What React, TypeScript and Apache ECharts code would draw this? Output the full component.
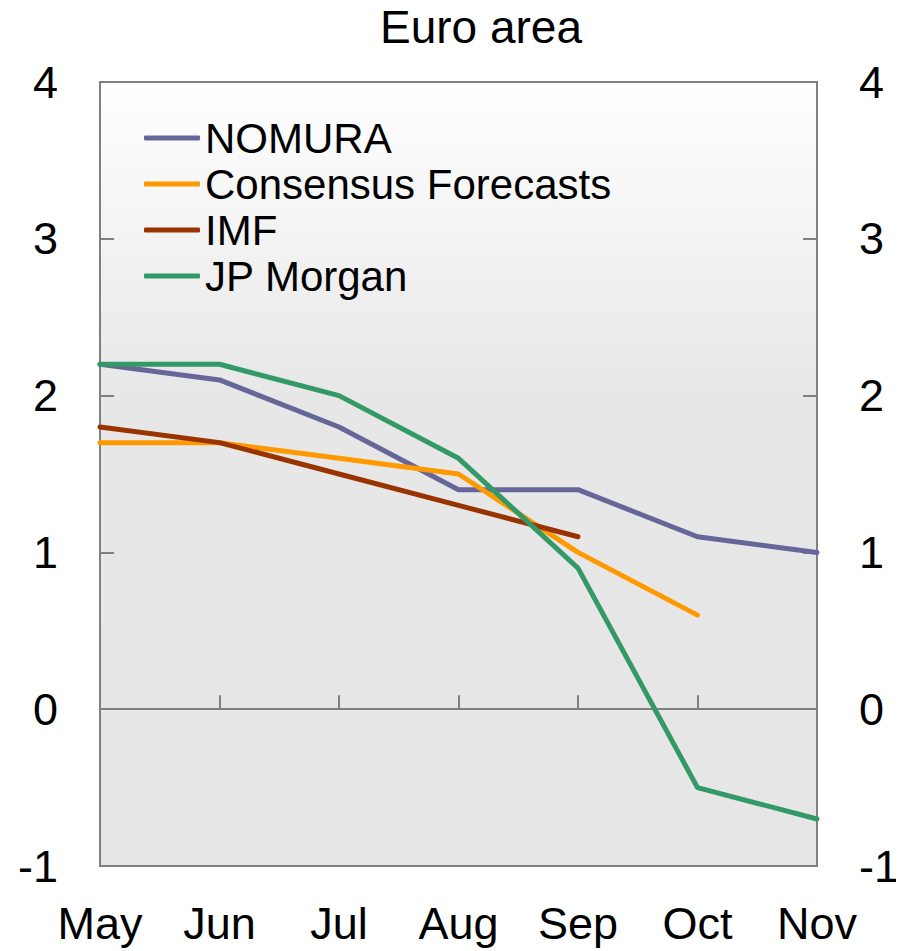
import React, { useEffect, useRef } from "react";
import * as echarts from "echarts";

const months = ["May", "Jun", "Jul", "Aug", "Sep", "Oct", "Nov"];
const nomura = [2.2, 2.1, 1.8, 1.4, 1.4, 1.1, 1.0];
const consensus = [1.7, 1.7, 1.6, 1.5, 1.0, 0.6, null];
const imf = [1.8, 1.7, 1.5, 1.3, 1.1, null, null];
const jpMorgan = [2.2, 2.2, 2.0, 1.6, 0.9, -0.5, -0.7];
const seriesNames = ["NOMURA", "Consensus Forecasts", "IMF", "JP Morgan"];
const seriesColors = ["#666699", "#FF9900", "#993300", "#339966"];

const FONT = "'Liberation Sans', Arial, Helvetica, sans-serif";

export default function App() {
  const ref = useRef<HTMLDivElement>(null);
  useEffect(() => {
    if (!ref.current) return;
    const chart = echarts.init(ref.current, undefined, { renderer: "svg" });
    const datas = [nomura, consensus, imf, jpMorgan];
    const gray = "#808080";
    const yAxisBase = (pos: "left" | "right") => ({
      type: "value",
      position: pos,
      min: -1,
      max: 4,
      interval: 1,
      axisLine: { show: true, lineStyle: { color: gray, width: 2 } },
      axisTick: { show: true, inside: true, length: 14, lineStyle: { color: gray, width: 2 } },
      axisLabel: { color: "#000", fontSize: 45, fontFamily: FONT, margin: 42 },
      splitLine: { show: false },
    });
    chart.setOption({
      animation: false,
      backgroundColor: "#ffffff",
      title: {
        text: "Euro area",
        left: 380,
        top: 4,
        padding: 0,
        textStyle: { color: "#000", fontSize: 46, fontWeight: "normal", fontFamily: FONT },
      },
      legend: {
        show: true,
        orient: "vertical",
        left: 144,
        top: 117,
        padding: 0,
        itemGap: 4,
        itemWidth: 56,
        itemHeight: 5,
        icon: "roundRect",
        data: seriesNames,
        textStyle: { color: "#000", fontSize: 42, fontFamily: FONT },
      },
      grid: {
        show: true,
        left: 100,
        top: 82,
        right: 87,
        bottom: 85,
        borderColor: gray,
        borderWidth: 2,
        backgroundColor: new echarts.graphic.LinearGradient(0, 0, 0, 1, [
          { offset: 0, color: "#ffffff" },
          { offset: 0.4, color: "#e7e7e7" },
          { offset: 1, color: "#e6e6e6" },
        ]),
      },
      xAxis: {
        type: "category",
        data: months,
        boundaryGap: false,
        axisLine: { show: true, lineStyle: { color: gray, width: 2 } },
        axisTick: { show: true, inside: true, length: 14, lineStyle: { color: gray, width: 2 } },
        axisLabel: { color: "#000", fontSize: 45, fontFamily: FONT, margin: 35, interval: 0 },
        splitLine: { show: false },
      },
      yAxis: [yAxisBase("left"), yAxisBase("right")],
      series: seriesNames.map((name, i) => ({
        name,
        type: "line",
        data: datas[i],
        yAxisIndex: 0,
        symbol: "none",
        showSymbol: false,
        connectNulls: false,
        lineStyle: { color: seriesColors[i], width: 5, cap: "round", join: "round" },
        itemStyle: { color: seriesColors[i] },
        markLine:
          i === 0
            ? {
                silent: true,
                symbol: "none",
                label: { show: false },
                lineStyle: { color: gray, width: 1.5, type: "solid" },
                data: [{ yAxis: 0 }],
              }
            : undefined,
        z: 3 + i,
      })),
    });
    return () => chart.dispose();
  }, []);
  return (
    <div
      ref={ref}
      style={{ margin: "-8px 0 0 -8px", width: 904, height: 951 }}
    />
  );
}
